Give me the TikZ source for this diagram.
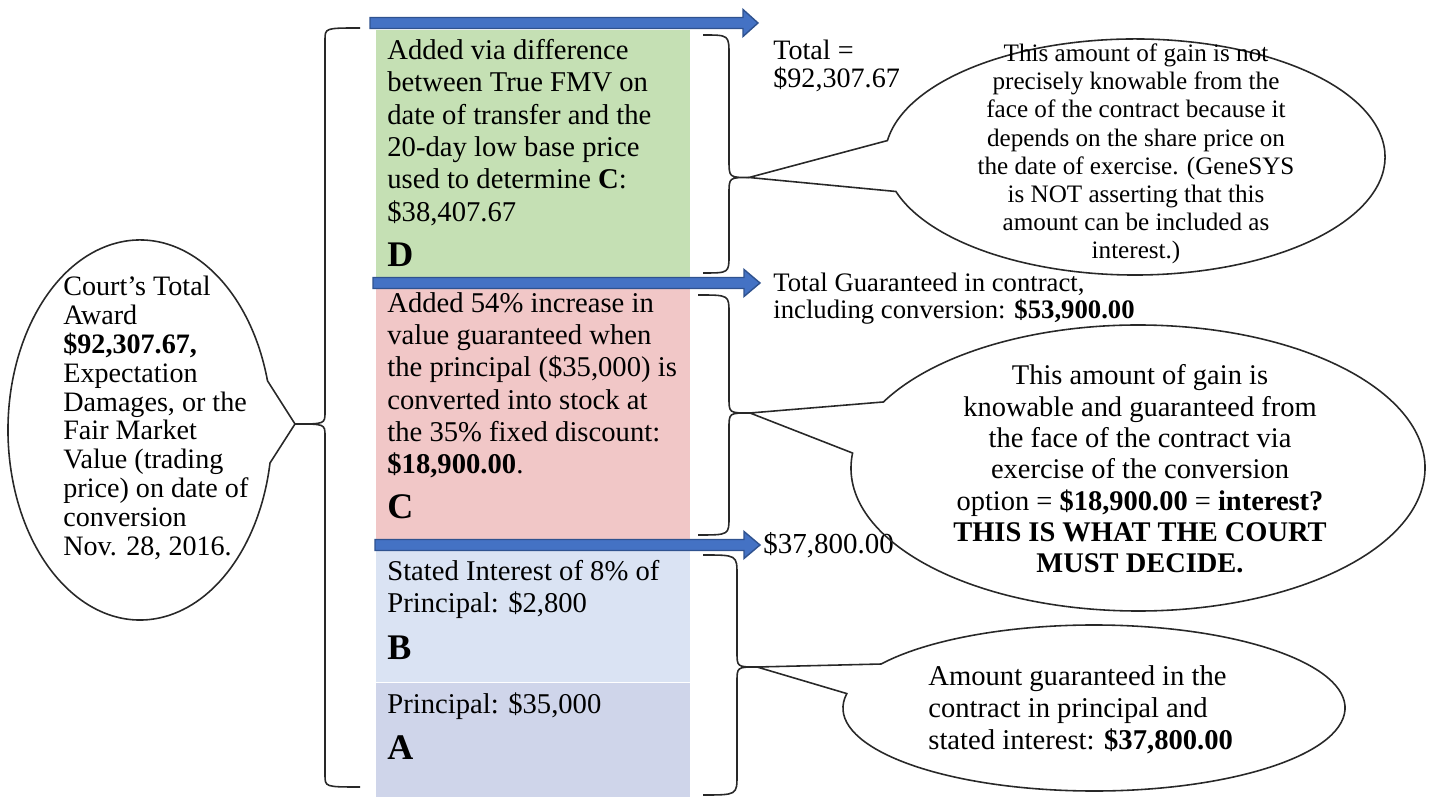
\documentclass[tikz,border=0pt]{standalone}
\usepackage{fontspec}
\setmainfont{Liberation Serif}
\definecolor{boxD}{RGB}{197,224,180}
\definecolor{boxC}{RGB}{241,199,199}
\definecolor{boxB}{RGB}{218,227,243}
\definecolor{boxA}{RGB}{207,213,234}
\definecolor{arrowfill}{RGB}{68,114,196}
\definecolor{arrowline}{RGB}{47,82,143}
\definecolor{inkline}{RGB}{40,40,40}
\begin{document}
\begin{tikzpicture}[
	boxtext/.style={black, anchor=north west, inner sep=0pt, align=left, font=\fontsize{16.3}{18.4}\selectfont},
	boxletter/.style={black, anchor=west, inner sep=0pt, font=\fontsize{20.5}{20.5}\selectfont\bfseries},
	sidetext/.style={black, anchor=north west, inner sep=0pt, align=left},
	brace/.style={draw=inkline, line width=0.9pt},
	callout/.style={draw=inkline, line width=0.9pt},
	blockarrow/.style={fill=arrowfill, draw=arrowline, line width=0.8pt}
]
	\useasboundingbox (0,0) rectangle (28.58,15.94);
	% stacked amounts
	\filldraw[fill=boxD, draw=white, thin] (7.50,15.36) rectangle (13.80,10.38);
	\filldraw[fill=boxC, draw=white, thin] (7.50,10.38) rectangle (13.80,5.14);
	\filldraw[fill=boxB, draw=white, thin] (7.50,5.14) rectangle (13.80,2.30);
	\filldraw[fill=boxA, draw=white, thin] (7.50,2.30) rectangle (13.80,0.00);
	\node[boxtext] (textD) at (7.74,15.16) {Added via difference\\between True FMV on\\date of transfer and the\\20-day low base price\\used to determine \textbf{C}:\\\$38,407.67};
	\node[boxletter] (letterD) at (7.74,10.84) {D};
	\node[boxtext] (textC) at (7.74,10.10) {Added 54\% increase in\\value guaranteed when\\the principal (\$35,000) is\\converted into stock at\\the 35\% fixed discount:\\\textbf{\$18,900.00}.};
	\node[boxletter] (letterC) at (7.74,5.80) {C};
	\node[boxtext] (textB) at (7.74,4.74) {Stated Interest of 8\% of\\Principal: \$2,800};
	\node[boxletter] (letterB) at (7.74,2.98) {B};
	\node[boxtext] (textA) at (7.74,2.10) {Principal: \$35,000};
	\node[boxletter] (letterA) at (7.74,0.98) {A};
	% block arrows
	\draw[blockarrow] (7.40,15.59) -- (14.86,15.59) -- (14.86,15.75) -- (15.16,15.48) -- (14.86,15.21) -- (14.86,15.37) -- (7.40,15.37) -- cycle;
	\draw[blockarrow] (7.46,10.39) -- (14.88,10.39) -- (14.88,10.55) -- (15.20,10.28) -- (14.88,10.01) -- (14.88,10.17) -- (7.46,10.17) -- cycle;
	\draw[blockarrow] (7.50,5.15) -- (14.88,5.15) -- (14.88,5.31) -- (15.20,5.04) -- (14.88,4.77) -- (14.88,4.93) -- (7.50,4.93) -- cycle;
	% totals
	\node[sidetext, font=\fontsize{16}{15.9}\selectfont] (totalall) at (15.46,15.14) {Total =\\\$92,307.67};
	\node[sidetext, font=\fontsize{15.2}{15.4}\selectfont] (totalguar) at (15.46,10.49) {Total Guaranteed in contract,\\including conversion: \textbf{\$53,900.00}};
	\node[black, anchor=west, inner sep=0pt, font=\fontsize{16.5}{16.5}\selectfont] (totalstated) at (15.26,5.04) {\$37,800.00};
	% brace tips
	\coordinate (tipD) at (14.98,12.39);
	\coordinate (tipC) at (15.00,7.68);
	\coordinate (tipBA) at (15.14,2.60);
	\coordinate (tipL) at (5.90,7.46);
	% braces
	\draw[brace] (14.06,15.24) .. controls (14.58,15.24) .. (14.58,14.84) -- (14.58,12.74) .. controls (14.58,12.39) .. (tipD) .. controls (14.58,12.39) .. (14.58,12.06) -- (14.58,10.84) .. controls (14.58,10.48) .. (14.06,10.48);
	\draw[brace] (13.96,10.04) .. controls (14.58,10.04) .. (14.58,9.68) -- (14.58,7.98) .. controls (14.58,7.68) .. (tipC) .. controls (14.58,7.68) .. (14.58,7.38) -- (14.58,5.60) .. controls (14.58,5.24) .. (13.96,5.24);
	\draw[brace] (14.06,4.84) .. controls (14.74,4.84) .. (14.74,4.44) -- (14.74,2.90) .. controls (14.74,2.60) .. (tipBA) .. controls (14.74,2.60) .. (14.74,2.30) -- (14.74,0.44) .. controls (14.74,0.04) .. (14.06,0.04);
	\draw[brace] (7.20,15.38) .. controls (6.50,15.38) .. (6.50,15.14) -- (6.50,7.70) .. controls (6.50,7.46) .. (tipL) .. controls (6.50,7.46) .. (6.50,7.22) -- (6.50,0.44) .. controls (6.50,0.20) .. (7.20,0.20);
	% callouts
	\draw[callout] (22.70,12.80) ++(197:5.00cm and 2.36cm) arc[start angle=197, end angle=532, x radius=5.00, y radius=2.36] -- (tipD) -- cycle;
	\draw[callout] (22.76,6.58) ++(174:5.74cm and 2.86cm) arc[start angle=174, end angle=512.5, x radius=5.74, y radius=2.86] -- (tipC) -- cycle;
	\draw[callout] (21.88,1.78) ++(170:5.02cm and 1.66cm) arc[start angle=170, end angle=508, x radius=5.02, y radius=1.66] -- (tipBA) -- cycle;
	\draw[callout] (2.80,7.34) ++(15:2.64cm and 3.80cm) arc[start angle=15, end angle=350, x radius=2.64, y radius=3.80] -- (tipL) -- cycle;
	\node[black, inner sep=0pt, align=center, font=\fontsize{14.3}{16}\selectfont] (topnote) at (22.72,12.86) {This amount of gain is not\\precisely knowable from the\\face of the contract because it\\depends on the share price on\\the date of exercise. (GeneSYS\\is NOT asserting that this\\amount can be included as\\interest.)};
	\node[black, inner sep=0pt, align=center, font=\fontsize{16.2}{17.8}\selectfont] (midnote) at (22.80,6.56) {This amount of gain is\\knowable and guaranteed from\\the face of the contract via\\exercise of the conversion\\option = \textbf{\$18,900.00} = \textbf{interest?}\\\textbf{THIS IS WHAT THE COURT}\\\textbf{MUST DECIDE.}};
	\node[black, anchor=west, inner sep=0pt, align=left, font=\fontsize{16.3}{18.2}\selectfont] (lownote) at (18.56,1.74) {Amount guaranteed in the\\contract in principal and\\stated interest: \textbf{\$37,800.00}};
	\node[black, anchor=west, inner sep=0pt, align=left, font=\fontsize{16}{16.4}\selectfont] (awardnote) at (1.26,7.58) {Court's Total\\Award\\\textbf{\$92,307.67,}\\Expectation\\Damages, or the\\Fair Market\\Value (trading\\price) on date of\\conversion\\Nov. 28, 2016.};
\end{tikzpicture}
\end{document}
